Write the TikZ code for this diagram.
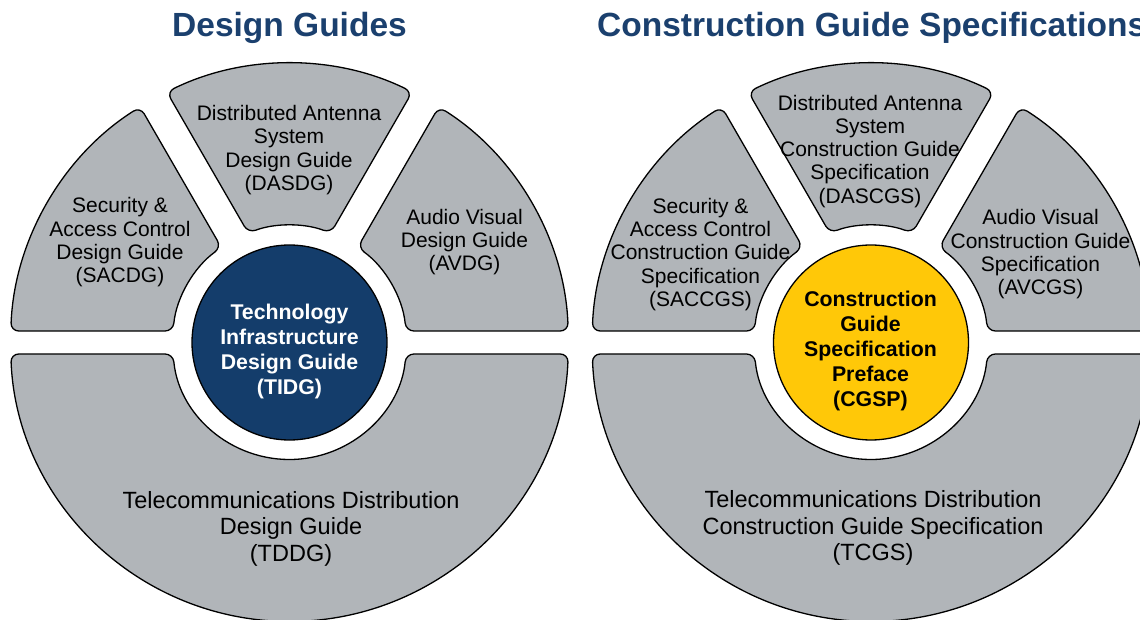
\documentclass[tikz,border=0pt]{standalone}
\usepackage{fontspec}
\setmainfont{Liberation Sans}
\usetikzlibrary{calc}

\definecolor{segfill}{RGB}{177,181,185}
\definecolor{navy}{RGB}{20,61,107}
\definecolor{titleblue}{RGB}{27,64,110}
\definecolor{gold}{RGB}{255,200,8}

\tikzset{
  seg/.style={fill=segfill, draw=black, line width=1.3pt, rounded corners=8pt, line join=round},
  segtext/.style={align=center, font=\fontsize{21}{23.3}\selectfont, text=black, inner sep=0pt},
  bigtext/.style={align=center, font=\fontsize{23.5}{26.5}\selectfont, text=black, inner sep=0pt},
  hubtext/.style={align=center, font=\bfseries\fontsize{21.3}{25}\selectfont, inner sep=0pt},
  hub/.style={circle, draw=black, line width=1.3pt, minimum size=195pt, inner sep=0pt},
  heading/.style={font=\bfseries\fontsize{33.5}{36}\selectfont, text=titleblue, inner sep=0pt},
}

% five ring segments around a centre: outer radius 279, inner radius 117
\newcommand{\ringsegments}[2]{%
  \begin{scope}[shift={(#1,#2)}]
    % upper left
    \path[seg] ($(177.638:279)!0.5!(174.36:117)$) -- (174.36:117)
      arc[start angle=174.36, end angle=125.64, radius=117] -- (122.362:279)
      arc[start angle=122.362, end angle=177.638, radius=279] -- cycle;
    % top
    \path[seg] ($(63.905:279)!0.5!(69.345:117)$) -- (69.345:117)
      arc[start angle=69.345, end angle=110.655, radius=117] -- (116.095:279)
      arc[start angle=116.095, end angle=63.905, radius=279] -- cycle;
    % upper right
    \path[seg] ($(2.362:279)!0.5!(5.64:117)$) -- (2.362:279)
      arc[start angle=2.362, end angle=57.638, radius=279] -- (54.36:117)
      arc[start angle=54.36, end angle=5.64, radius=117] -- cycle;
    % lower half
    \path[seg] ($(182.362:279)!0.5!(185.64:117)$) -- (185.64:117)
      arc[start angle=185.64, end angle=354.36, radius=117] -- (357.638:279)
      arc[start angle=357.638, end angle=182.362, radius=279] -- cycle;
  \end{scope}}

\begin{document}
\begin{tikzpicture}[x=1pt,y=1pt]
  \useasboundingbox (0,0) rectangle (1140,619);
  \clip (0,0) rectangle (1140,619);

  % ---------- Design Guides ----------
  \node[heading, anchor=base] (dgtitle) at (289.5,582) {Design Guides};
  \ringsegments{289.5}{276.5}
  \node[hub, fill=navy] (tidg) at (289.5,276.5) {};
  \node[hubtext, text=white] (tidgtext) at (289.5,268)
    {Technology\\Infrastructure\\Design Guide\\(TIDG)};
  \node[segtext] (dasdg) at (289,469)
    {Distributed Antenna\\System\\Design Guide\\(DASDG)};
  \node[segtext] (sacdg) at (120,376.7)
    {Security \&\\Access Control\\Design Guide\\(SACDG)};
  \node[segtext] (avdg) at (464.5,377)
    {Audio Visual\\Design Guide\\(AVDG)};
  \node[bigtext] (tddg) at (291,90.2)
    {Telecommunications Distribution\\Design Guide\\(TDDG)};

  % ---------- Construction Guide Specifications ----------
  \node[heading, anchor=base west] (cgstitle) at (597,582) {Construction Guide Specifications};
  \ringsegments{871}{276.5}
  \node[hub, fill=gold] (cgsp) at (871,276.5) {};
  \node[hubtext, text=black] (cgsptext) at (870.5,268.5)
    {Construction\\Guide\\Specification\\Preface\\(CGSP)};
  \node[segtext] (dascgs) at (870,467.8)
    {Distributed Antenna\\System\\Construction Guide\\Specification\\(DASCGS)};
  \node[segtext] (saccgs) at (700.5,364.5)
    {Security \&\\Access Control\\Construction Guide\\Specification\\(SACCGS)};
  \node[segtext] (avcgs) at (1040.5,364.5)
    {Audio Visual\\Construction Guide\\Specification\\(AVCGS)};
  \node[bigtext] (tcgs) at (873,90.7)
    {Telecommunications Distribution\\Construction Guide Specification\\(TCGS)};
\end{tikzpicture}
\end{document}
